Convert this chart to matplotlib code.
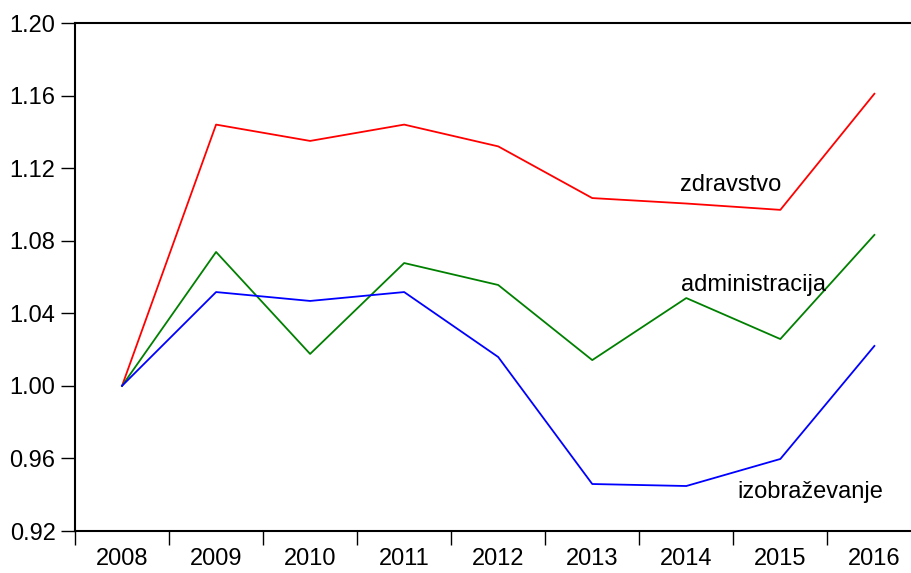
import numpy as np
import matplotlib
matplotlib.use("Agg")
import matplotlib.pyplot as plt

plt.rcParams["font.family"] = ["Liberation Sans", "DejaVu Sans"]

# Data
years = ["2008", "2009", "2010", "2011", "2012", "2013", "2014", "2015", "2016"]
zdravstvo = [1.000, 1.144, 1.135, 1.144, 1.132, 1.1035, 1.1005, 1.097, 1.161]
administracija = [1.000, 1.0738, 1.0176, 1.0677, 1.0556, 1.0142, 1.0484, 1.0258, 1.0832]
izobrazevanje = [1.000, 1.0517, 1.0468, 1.0517, 1.0159, 0.9459, 0.9448, 0.9597, 1.022]

x = np.arange(len(years))

fig = plt.figure(figsize=(9.12, 5.73), dpi=100)
ax = fig.add_axes([75 / 912, 1 - 531 / 573, 1 - 75 / 912, (531 - 23) / 573])

ax.plot(x, zdravstvo, color="#ff0000", lw=1.3)
ax.plot(x, administracija, color="#008000", lw=1.3)
ax.plot(x, izobrazevanje, color="#0000ff", lw=1.3)

ax.text(5.93, 1.1107, "zdravstvo", fontsize=17, va="center", ha="left")
ax.text(5.94, 1.0555, "administracija", fontsize=17, va="center", ha="left")
ax.text(6.54, 0.9415, "izobraževanje", fontsize=17, va="center", ha="left")

ax.set_xlim(-0.5, 8.4)
ax.set_ylim(0.92, 1.20)

# tick marks at year boundaries, labels at centres
ax.set_xticks(np.arange(-0.5, 8.5, 1.0))
ax.set_xticklabels([])
ax.set_xticks(x, minor=True)
ax.set_xticklabels(years, minor=True, fontsize=17)
ax.tick_params(axis="x", which="major", length=10, width=1, direction="out")
ax.tick_params(axis="x", which="minor", length=0, pad=12)

yt = [0.92, 0.96, 1.00, 1.04, 1.08, 1.12, 1.16, 1.20]
ax.set_yticks(yt)
ax.set_yticklabels([f"{v:.2f}" for v in yt], fontsize=17)
ax.tick_params(axis="y", length=10, width=1, pad=4)

ax.spines["right"].set_visible(False)
for s in ["left", "top", "bottom"]:
    ax.spines[s].set_linewidth(1.5)

fig.savefig("out.png", dpi=100)
